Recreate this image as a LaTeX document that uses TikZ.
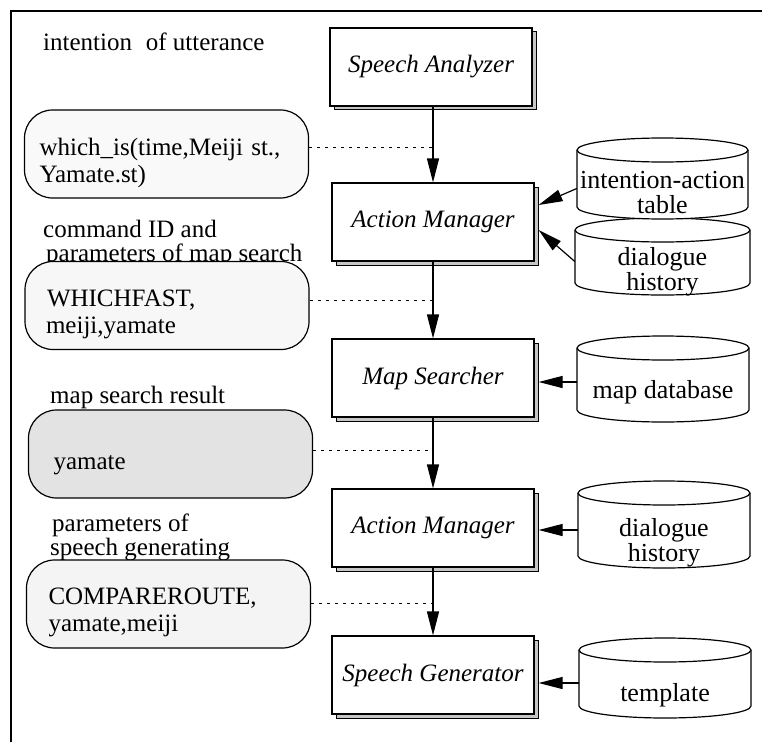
\documentclass[tikz,border=0pt]{standalone}
\usepackage{fontspec}
\setmainfont{Liberation Serif}
\usetikzlibrary{arrows.meta,shadows}
\newcommand\dbcyl[7]{%
  \pgfmathsetmacro\cx{(#2+#3)/2}%
  \pgfmathsetmacro\rx{(#3-#2)/2}%
  \pgfmathsetmacro\cw{#3-#2}%
  \pgfmathsetmacro\ty{(#4+#5)/2+12+#7}%
  \draw[cyl] (#2,#4) -- (#2,#5) arc[start angle=180,end angle=0,x radius=\rx,y radius=12]
     -- (#3,#4) arc[start angle=0,end angle=-180,x radius=\rx,y radius=12] -- cycle;
  \draw[cyl,fill=none] (#2,#4) arc[start angle=180,end angle=0,x radius=\rx,y radius=12];
  \node[dbtext,minimum width=\cw pt] (#1) at (\cx,\ty) {#6};
}
\newcommand\topstrut[1]{\rule{0pt}{#1pt}}
\begin{document}
\begin{tikzpicture}[x=1pt,y=-1pt,
  procbox/.style={draw, line width=1.2pt, fill=white, minimum width=202pt, minimum height=78pt,
    font=\fontsize{25}{28}\selectfont\itshape,
    copy shadow={shadow xshift=4pt, shadow yshift=-4pt, fill=gray!45, draw=black, line width=1pt}},
  databox/.style={draw, line width=1.2pt, rounded corners=28pt, minimum width=284pt, minimum height=88pt,
    text width=262pt, align=left, font=\fontsize{25}{27}\selectfont},
  lbl/.style={anchor=west, inner sep=0pt, font=\fontsize{25}{28}\selectfont},
  dbtext/.style={align=center, font=\fontsize{26}{25}\selectfont, inner sep=0pt},
  arr/.style={line width=1.2pt, -{Triangle[length=24pt,width=12pt]}},
  dotline/.style={line width=0.9pt, dash pattern=on 3pt off 5pt},
  cyl/.style={draw, line width=1.2pt, fill=white}
]
\useasboundingbox (0,0) rectangle (762,741);
% frame
\draw[line width=2.5pt] (11,760) -- (11,11) -- (780,11);

% process boxes
\node[procbox] (SA)  at (431,67)  {Speech Analyzer};
\node[procbox] (AM1) at (433,222) {Action Manager};
\node[procbox] (MS)  at (433,378) {Map Searcher};
\node[procbox] (AM2) at (433,528) {Action Manager};
\node[procbox] (SG)  at (433,675) {Speech Generator};

\coordinate (sab) at (SA.south -| AM1.north);
\draw[arr] (sab) -- (AM1.north);
\draw[arr] (AM1.south) -- (MS.north);
\draw[arr] (MS.south) -- (AM2.north);
\draw[arr] (AM2.south) -- (SG.north);

% databases
\dbcyl{DH1}{575}{750}{230}{283}{dialogue\\history}{3}
\dbcyl{IA}{577}{748}{150}{207}{intention-action\\table}{2}
\dbcyl{MD}{577}{749}{348}{410}{map database}{1}
\dbcyl{DH2}{578}{750}{493}{556}{dialogue\\history}{6}
\dbcyl{TP}{579}{751}{650}{706}{template}{5}

\coordinate (am1a) at ([xshift=4pt,yshift=17pt]AM1.east);
\coordinate (am1b) at ([xshift=4pt,yshift=-8pt]AM1.east);
\coordinate (msr)  at ([xshift=4pt,yshift=-4pt]MS.east);
\coordinate (am2r) at ([xshift=4pt,yshift=-2pt]AM2.east);
\coordinate (sgr)  at ([xshift=4pt,yshift=-8pt]SG.east);
\coordinate (ias)  at ([yshift=4pt]IA.west);
\coordinate (dh1s) at ([yshift=10pt]DH1.west);
\draw[arr] (ias) -- (am1a);
\draw[arr] (dh1s) -- (am1b);
\draw[arr] (MD.west |- msr) -- (msr);
\draw[arr] (DH2.west |- am2r) -- (am2r);
\draw[arr] (TP.west |- sgr) -- (sgr);

% labels
\node[lbl] (L1)  at (43,42)  {intention\hspace{0.3em} of utterance};
\node[lbl] (L2a) at (43,229) {command ID and};
\node[lbl] (L2b) at (46,255) {parameters of map search};
\node[lbl] (L3)  at (50,397) {map search result};
\node[lbl] (L4a) at (52,525) {parameters of};
\node[lbl] (L4b) at (50,550) {speech generating};

% data boxes
\node[databox, fill=gray!5]  (B1) at (166.5,154) {\topstrut{36}\hspace*{4pt}which\_is(time,Meiji st.,\\\hspace*{4pt}Yamate.st)};
\node[databox, fill=gray!6]  (B2) at (167,305.5) {\topstrut{34}\hspace*{11pt}WHICHFAST,\\\hspace*{10pt}meiji,yamate};
\node[databox, fill=gray!22] (B3) at (170.5,454) {\topstrut{36}\hspace*{14pt}yamate};
\node[databox, fill=gray!9]  (B4) at (168.5,604) {\topstrut{34}\hspace*{11pt}COMPAREROUTE,\\\hspace*{11pt}yamate,meiji};

\coordinate (d1) at (433,147);
\coordinate (d2) at (433,300);
\coordinate (d3) at (433,450);
\coordinate (d4) at (433,603);
\draw[dotline] (B1.east |- d1) -- (d1);
\draw[dotline] (B2.east |- d2) -- (d2);
\draw[dotline] (B3.east |- d3) -- (d3);
\draw[dotline] (B4.east |- d4) -- (d4);
\end{tikzpicture}
\end{document}
